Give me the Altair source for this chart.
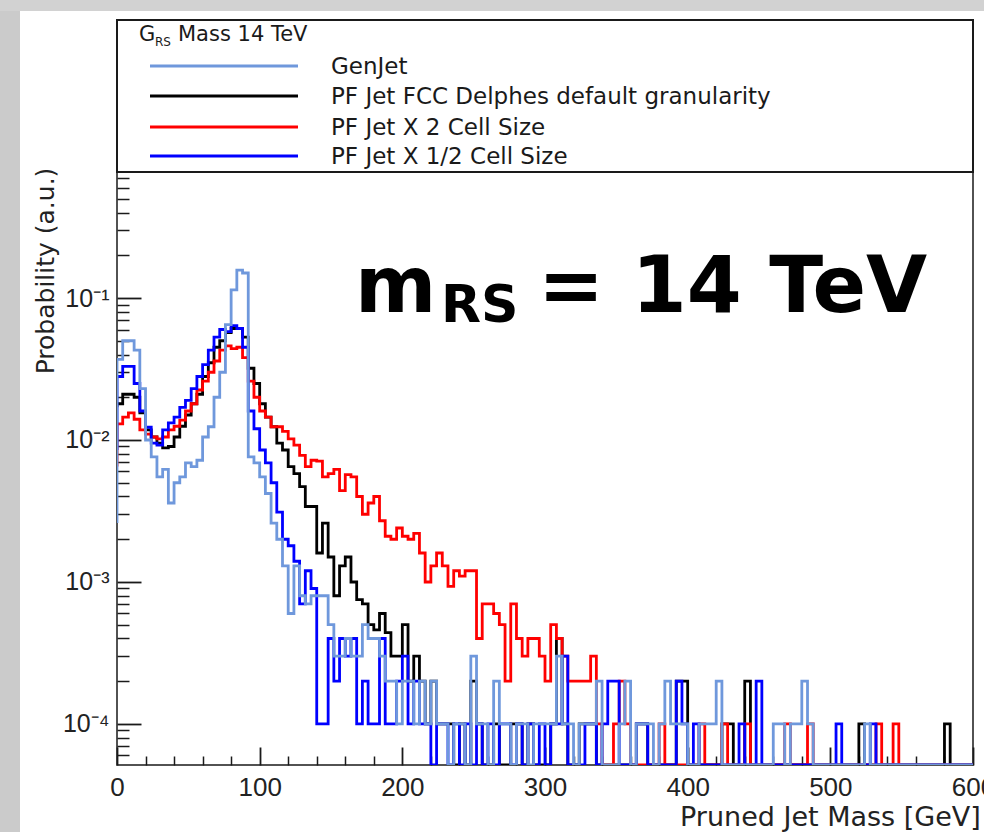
import altair as alt
import pandas as pd

# ---------------- data ----------------
BIN_GEV = 4  # histogram bin width in GeV, 150 bins from 0 to 600
X_DOMAIN = [0, 600]
Y_DOMAIN = [5.14e-5, 9.08]

series_names = [
    "GenJet",
    "PF Jet FCC Delphes default granularity",
    "PF Jet X 2 Cell Size",
    "PF Jet X 1/2 Cell Size",
]
series_colors = ["#6f98dc", "#000000", "#ff0000", "#0000ff"]
draw_order = [1, 2, 3, 0]

genjet = [
    0.037, 0.05, 0.05, 0.043, 0.023, 0.01, 0.0076, 0.0055, 0.0062, 0.0036,
    0.005, 0.0055, 0.0069, 0.0065, 0.0072, 0.0105, 0.0124, 0.02, 0.03, 0.065,
    0.114, 0.157, 0.15, 0.0076, 0.0069, 0.0055, 0.0042, 0.0026, 0.002, 0.0013,
    0.0006, 0.0013, 0.0008, 0.0007, 0.0008, 0.0008, 0.0008, 0.0005, 0.0003, 0.0003,
    0.0004, 0.0003, 0.0003, 0.0005, 0.0004, 0.0004, 0.0003, 0.0002, 0.0002, 0.0001,
    0.0002, 0.0002, 0.0001, 0.0002, 0.0001, 0.0002, 0.0001, 0.0001, 0, 0.0001,
    0.0001, 0, 0.0003, 0.0001, 0.0001, 0, 0.0002, 0.0001, 0.0001, 0,
    0.0001, 0.0001, 0, 0.0001, 0.0001, 0.0001, 0.0001, 0.0003, 0.0001, 0.0001,
    0, 0.0001, 0.0001, 0.0001, 0.0002, 0, 0, 0, 0.0001, 0.0002,
    0, 0.0001, 0.0001, 0.0001, 0, 0.0001, 0.0002, 0.0001, 0.0001, 0.0001,
    0, 0, 0.0001, 0.0001, 0.0001, 0.0002, 0, 0, 0, 0,
    0, 0, 0, 0, 0, 0.0001, 0.0001, 0, 0.0001, 0.0001,
    0.0002, 0.0001, 0, 0, 0, 0, 0, 0, 0, 0,
    0, 0.0001, 0, 0, 0, 0, 0, 0, 0, 0,
    0, 0, 0, 0, 0, 0, 0, 0, 0, 0,
]

pf_default = [
    0.018, 0.021, 0.021, 0.02, 0.0155, 0.0118, 0.0105, 0.0095, 0.0088, 0.009,
    0.0105, 0.0125, 0.015, 0.018, 0.021, 0.028, 0.035, 0.045, 0.05, 0.057,
    0.061, 0.061, 0.053, 0.032, 0.025, 0.018, 0.0145, 0.0124, 0.0095, 0.0085,
    0.0065, 0.0058, 0.0047, 0.0034, 0.0034, 0.0016, 0.0026, 0.0015, 0.0008, 0.0013,
    0.0015, 0.001, 0.00075, 0.0007, 0.0005, 0.00046, 0.0006, 0.00044, 0.0003, 0.0003,
    0.0005, 0.0002, 0.0003, 0.0002, 0.0001, 0.0002, 0.0001, 0.0001, 0.0001, 0,
    0.0001, 0, 0.0002, 0.0001, 0, 0, 0.0001, 0, 0, 0.0001,
    0.0001, 0, 0.0001, 0, 0, 0, 0.0001, 0.0004, 0.0001, 0,
    0, 0.0001, 0.0001, 0.0001, 0, 0, 0, 0, 0, 0,
    0, 0.0001, 0.0001, 0, 0, 0, 0, 0, 0.0002, 0.0002,
    0, 0, 0, 0, 0, 0, 0.0001, 0.0001, 0, 0,
    0.0002, 0, 0, 0, 0, 0, 0, 0, 0, 0,
    0, 0, 0, 0, 0, 0, 0, 0, 0, 0,
    0.0001, 0, 0, 0, 0, 0, 0, 0, 0, 0,
    0, 0, 0, 0, 0, 0.0001, 0, 0, 0, 0,
]

pf_x2 = [
    0.013, 0.0145, 0.0155, 0.014, 0.0118, 0.011, 0.0105, 0.0102, 0.0105, 0.0118,
    0.0125, 0.0138, 0.016, 0.018, 0.0225, 0.026, 0.03, 0.036, 0.043, 0.046,
    0.044, 0.045, 0.038, 0.026, 0.02, 0.016, 0.0145, 0.0124, 0.0124, 0.0115,
    0.0102, 0.0092, 0.0078, 0.0065, 0.0072, 0.0071, 0.0055, 0.0058, 0.0062, 0.0044,
    0.0057, 0.0055, 0.004, 0.003, 0.0036, 0.004, 0.0027, 0.0021, 0.002, 0.0024,
    0.0021, 0.002, 0.0022, 0.0016, 0.001, 0.0013, 0.0016, 0.0013, 0.00093, 0.0012,
    0.0011, 0.0012, 0.0012, 0.0004, 0.0007, 0.0007, 0.0006, 0.0005, 0.0002, 0.0007,
    0.0004, 0.0003, 0.0004, 0.0004, 0.0003, 0.0002, 0.0005, 0.0004, 0.0003, 0.0002,
    0.0002, 0.0002, 0.0002, 0.0003, 0.0001, 0, 0, 0.0001, 0.0002, 0.0001,
    0, 0, 0, 0, 0, 0.0001, 0, 0, 0, 0,
    0, 0, 0.0001, 0, 0, 0, 0.0001, 0, 0, 0,
    0.0001, 0, 0, 0, 0, 0, 0, 0.0001, 0, 0,
    0, 0.0001, 0, 0, 0, 0, 0, 0, 0, 0,
    0, 0, 0, 0.0001, 0, 0, 0.0001, 0, 0, 0,
    0, 0, 0, 0, 0, 0, 0, 0, 0, 0,
]

pf_half = [
    0.028, 0.033, 0.033, 0.025, 0.016, 0.0123, 0.0095, 0.0092, 0.0118, 0.0132,
    0.0145, 0.017, 0.019, 0.023, 0.028, 0.034, 0.043, 0.053, 0.06, 0.058,
    0.064, 0.061, 0.045, 0.016, 0.012, 0.0085, 0.0069, 0.005, 0.0031, 0.002,
    0.0018, 0.0014, 0.0007, 0.0012, 0.0009, 0.0001, 0.0001, 0.0004, 0.0002, 0.0004,
    0.0003, 0.0004, 0.0001, 0.0002, 0.0001, 0.0001, 0.0004, 0.0001, 0.0001, 0.0002,
    0.0003, 0.0001, 0.0002, 0.0001, 0.0001, 0, 0.0001, 0.0001, 0, 0.0001,
    0, 0.0001, 0, 0.0001, 0, 0.0001, 0, 0.0001, 0.0001, 0,
    0.0001, 0, 0.0001, 0, 0.0001, 0, 0.0001, 0.0001, 0.0003, 0,
    0, 0, 0.0001, 0.0001, 0, 0.0001, 0.0002, 0.0002, 0, 0,
    0, 0.0001, 0.0001, 0, 0, 0, 0, 0, 0.0002, 0.0001,
    0, 0.0001, 0, 0, 0, 0, 0, 0, 0, 0.0001,
    0, 0, 0.0002, 0, 0, 0, 0, 0, 0, 0,
    0, 0, 0, 0, 0, 0, 0.0001, 0, 0, 0,
    0, 0, 0.0001, 0, 0, 0, 0, 0, 0, 0,
    0, 0, 0, 0, 0, 0, 0, 0, 0, 0,
]

# value at which each outline starts on the left frame edge
left_edge = [0.0026, 0.017, 0.0065, 0.0085]

x_major = [0, 100, 200, 300, 400, 500, 600]
x_minor = [20, 40, 60, 80, 120, 140, 160, 180, 220, 240, 260, 280, 320, 340,
           360, 380, 420, 440, 460, 480, 520, 540, 560, 580]
y_major = [1e-4, 1e-3, 1e-2, 1e-1]
y_minor = [6e-5, 7e-5, 8e-5, 9e-5,
           2e-4, 3e-4, 4e-4, 5e-4, 6e-4, 7e-4, 8e-4, 9e-4,
           2e-3, 3e-3, 4e-3, 5e-3, 6e-3, 7e-3, 8e-3, 9e-3,
           2e-2, 3e-2, 4e-2, 5e-2, 6e-2, 7e-2, 8e-2, 9e-2,
           0.2, 0.3, 0.4, 0.5, 0.6, 0.7]

legend_title = ["G", "RS", "Mass 14 TeV"]
x_title = "Pruned Jet Mass [GeV]"
y_title = "Probability (a.u.)"
big_text = ["m", "RS", "= 14 TeV"]

# ---------------- build table ----------------
all_series = [genjet, pf_default, pf_x2, pf_half]
rows = []
for s, (name, vals) in enumerate(zip(series_names, all_series)):
    rows.append({"series": name, "idx": 0, "mass": 0.0, "prob": left_edge[s]})
    for i, v in enumerate(vals):
        rows.append({"series": name, "idx": i + 1, "mass": float(i * BIN_GEV), "prob": v})
    rows.append({"series": name, "idx": len(vals) + 1,
                 "mass": float(len(vals) * BIN_GEV), "prob": vals[-1]})
df = pd.DataFrame(rows)

# ---------------- geometry (pixels) ----------------
W, H = 856, 745
PAD = {"left": 117, "top": 20, "right": 11, "bottom": 67}
def px(x):
    return x - PAD["left"]
def py(y):
    return y - PAD["top"]

xs = alt.Scale(domain=X_DOMAIN, nice=False, zero=False)
ys = alt.Scale(type="log", domain=Y_DOMAIN, nice=False)

TICK_COLOR = "#1a1a1a"
ax_x_major = alt.Axis(orient="bottom", values=x_major, tickSize=18, offset=-18,
                      domain=False, grid=False, tickColor=TICK_COLOR, tickWidth=1.8,
                      labelFont="Liberation Sans", labelFontSize=26, labelColor="#222",
                      labelPadding=9, labelFlush=False, labelOverlap=False, title=None)
ax_x_minor = alt.Axis(orient="bottom", values=x_minor, tickSize=9, offset=-9,
                      domain=False, grid=False, tickColor=TICK_COLOR, tickWidth=1.5,
                      labels=False, title=None)
ax_y_major = alt.Axis(orient="left", values=y_major, tickSize=24, offset=-24,
                      domain=False, grid=False, tickColor=TICK_COLOR, tickWidth=1.8,
                      labelFont="Liberation Sans", labelFontSize=25, labelColor="#222",
                      labelPadding=8, labelOverlap=False, title=None,
                      labelExpr="datum.value < 0.0005 ? '10⁻⁴' : datum.value < 0.005 ? '10⁻³' : datum.value < 0.05 ? '10⁻²' : '10⁻¹'")
ax_y_minor = alt.Axis(orient="left", values=y_minor, tickSize=12, offset=-12,
                      domain=False, grid=False, tickColor=TICK_COLOR, tickWidth=1.5,
                      labels=False, title=None)

base = alt.Chart(df).transform_calculate(p=f"max(datum.prob, {Y_DOMAIN[0]})")

one = pd.DataFrame({"k": [0]})

layers = []
# grey photo border
layers.append(alt.Chart(one).mark_rect(color="#cbcbcb").encode(
    x=alt.value(px(0)), x2=alt.value(px(20)), y=alt.value(py(0)), y2=alt.value(py(832))))
layers.append(alt.Chart(one).mark_rect(color="#d2d2d2").encode(
    x=alt.value(px(0)), x2=alt.value(px(984)), y=alt.value(py(0)), y2=alt.value(py(11))))

# histogram outlines
for n, s in enumerate(draw_order):
    first = n == 0
    layers.append(
        base.transform_filter(alt.datum.series == series_names[s])
        .mark_line(interpolate="step-after", clip=True, strokeWidth=2.8,
                   color=series_colors[s])
        .encode(
            x=alt.X("mass:Q", scale=xs, axis=ax_x_major if first else None),
            y=alt.Y("p:Q", scale=ys, axis=ax_y_major if first else None),
            order="idx:Q",
        )
    )
# invisible layer carrying the minor ticks
layers.append(
    base.mark_line(opacity=0).encode(
        x=alt.X("mass:Q", scale=xs, axis=ax_x_minor),
        y=alt.Y("p:Q", scale=ys, axis=ax_y_minor),
        order="idx:Q",
        detail="series:N",
    )
)

# legend box
layers.append(alt.Chart(one).mark_rect(fill="white", stroke="#1a1a1a", strokeWidth=2).encode(
    x=alt.value(px(117)), x2=alt.value(px(973)), y=alt.value(py(20)), y2=alt.value(py(172))))
legend_y = [66, 96, 127, 156]
for s in range(4):
    layers.append(alt.Chart(one).mark_rule(strokeWidth=3, color=series_colors[s]).encode(
        x=alt.value(px(150)), x2=alt.value(px(298)), y=alt.value(py(legend_y[s]))))
    layers.append(alt.Chart(one).mark_text(align="left", baseline="alphabetic",
                                           font="DejaVu Sans", fontSize=23, color="#1a1a1a").encode(
        x=alt.value(px(331)), y=alt.value(py(legend_y[s] + 8)), text=alt.value(series_names[s])))

layers.append(alt.Chart(one).mark_text(align="left", baseline="alphabetic", font="DejaVu Sans",
                                       fontSize=21, color="#1a1a1a").encode(
    x=alt.value(px(139)), y=alt.value(py(41)), text=alt.value(legend_title[0])))
layers.append(alt.Chart(one).mark_text(align="left", baseline="alphabetic", font="DejaVu Sans",
                                       fontSize=12, color="#1a1a1a").encode(
    x=alt.value(px(155)), y=alt.value(py(46)), text=alt.value(legend_title[1])))
layers.append(alt.Chart(one).mark_text(align="left", baseline="alphabetic", font="DejaVu Sans",
                                       fontSize=21, color="#1a1a1a").encode(
    x=alt.value(px(178)), y=alt.value(py(41)), text=alt.value(legend_title[2])))

# axis titles
layers.append(alt.Chart(one).mark_text(align="left", baseline="alphabetic", font="DejaVu Sans",
                                       fontSize=27, color="#222").encode(
    x=alt.value(px(680)), y=alt.value(py(826)), text=alt.value(x_title)))
layers.append(alt.Chart(one).mark_text(align="center", baseline="middle", angle=270,
                                       font="DejaVu Sans", fontSize=25, color="#222").encode(
    x=alt.value(px(46)), y=alt.value(py(271)), text=alt.value(y_title)))

# big annotation
layers.append(alt.Chart(one).mark_text(align="left", baseline="alphabetic", font="DejaVu Sans",
                                       fontWeight="bold", fontSize=78, color="#000").encode(
    x=alt.value(px(355)), y=alt.value(py(312)), text=alt.value(big_text[0])))
layers.append(alt.Chart(one).mark_text(align="left", baseline="alphabetic", font="DejaVu Sans",
                                       fontWeight="bold", fontSize=52, color="#000").encode(
    x=alt.value(px(441)), y=alt.value(py(322)), text=alt.value(big_text[1])))
layers.append(alt.Chart(one).mark_text(align="left", baseline="alphabetic", font="DejaVu Sans",
                                       fontWeight="bold", fontSize=79, color="#000").encode(
    x=alt.value(px(538)), y=alt.value(py(312)), text=alt.value(big_text[2])))

chart = (
    alt.layer(*layers)
    .resolve_axis(x="independent", y="independent")
    .properties(width=W, height=H, padding=PAD,
                autosize=alt.AutoSizeParams(type="none"), background="white")
    .configure_view(stroke="#1a1a1a", strokeWidth=1.5)
)

chart.save("out.html", embed_options={"renderer": "svg", "actions": False})
